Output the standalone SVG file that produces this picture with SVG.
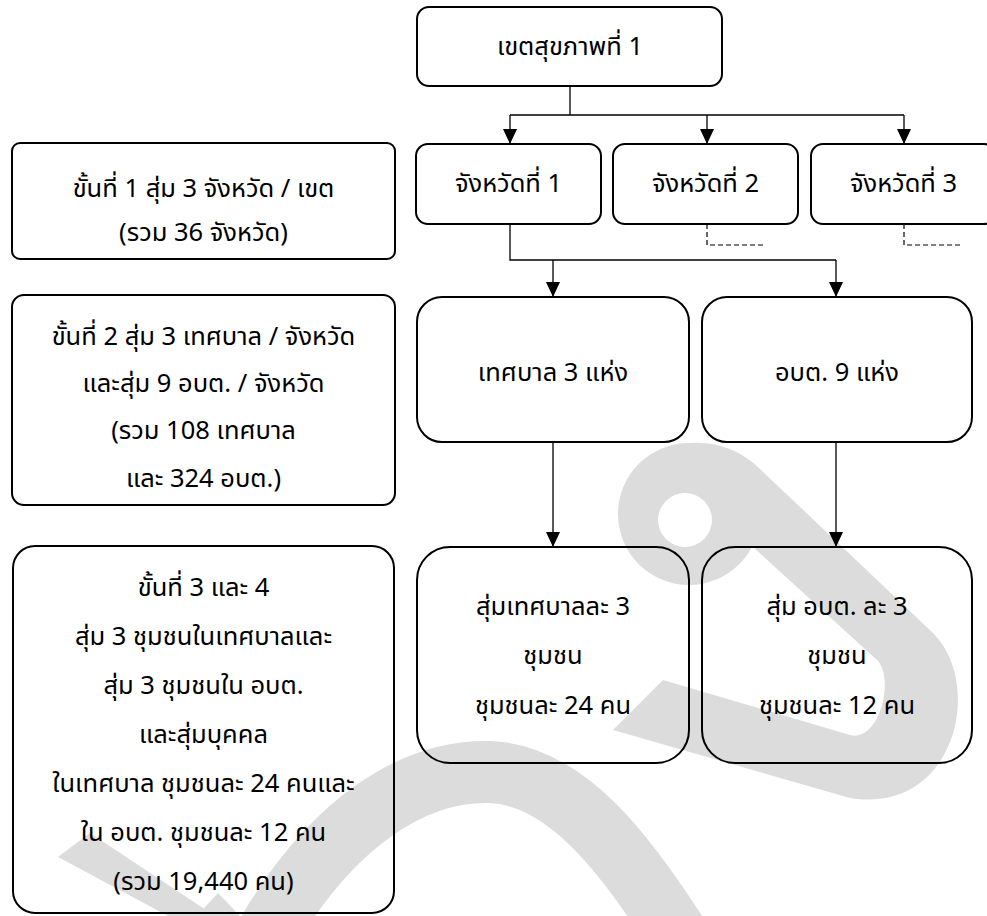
<svg xmlns="http://www.w3.org/2000/svg" width="987" height="916" viewBox="0 0 987 916">
<style>
  .box { fill: none; stroke: #000; stroke-width: 2; }
  .t { font-family: "Noto Sans Thai", "Noto Sans Thai UI", "Leelawadee UI", Tahoma, "Noto Sans", sans-serif; font-size: 25.5px; fill: #000; text-anchor: middle; }
  .conn { fill: none; stroke: #000; stroke-width: 1.3; }
  .dash { fill: none; stroke: #000; stroke-width: 1.2; stroke-dasharray: 5 3; }
  .wm { fill: #dcdcdc; }
</style>
<defs>
  <marker id="arr" markerUnits="userSpaceOnUse" viewBox="0 0 15 14" refX="15" refY="7" markerWidth="15" markerHeight="14" orient="auto">
    <path d="M0,0 L15,7 L0,14 Z" fill="#000"/>
  </marker>
</defs>
<rect width="987" height="916" fill="#fff"/>
<g id="watermark">
  <circle class="wm" cx="689" cy="514" r="71"/>
  <path class="wm" d="M690,443 Q730,440 760,469 L933,633 C985,685 955,815 850,798 L613,730 L663,680 L850,735 C880,743 895,677 877,660 L753,547 Z"/>
  <circle cx="685" cy="520" r="27" fill="#fff"/>
  <path d="M255,955 C330,815 420,770 490,772 C565,775 625,850 690,955" fill="none" stroke="#dcdcdc" stroke-width="62"/>
  <polygon class="wm" points="58,857 90,833 215,916 168,916"/>
  <polygon class="wm" points="197,916 218,893 240,916"/>
</g>
<g id="connectors">
  <path class="conn" d="M570,86 V115 M510,115 H904"/>
  <path class="conn" d="M510,115 V144" marker-end="url(#arr)"/>
  <path class="conn" d="M707,115 V144" marker-end="url(#arr)"/>
  <path class="conn" d="M904,115 V144" marker-end="url(#arr)"/>
  <path class="conn" d="M510,224 V260 H836"/>
  <path class="conn" d="M553,260 V297" marker-end="url(#arr)"/>
  <path class="conn" d="M836,260 V297" marker-end="url(#arr)"/>
  <path class="conn" d="M553,442 V547" marker-end="url(#arr)"/>
  <path class="conn" d="M836,442 V547" marker-end="url(#arr)"/>
  <path class="dash" d="M707,224 V245 H765"/>
  <path class="dash" d="M904,224 V245 H963"/>
</g>
<g id="n-region">
  <rect class="box" x="417" y="7" width="305" height="79" rx="12"/>
  <text class="t" x="570" y="55">เขตสุขภาพที่ 1</text>
</g>
<g id="n-prov1">
  <rect class="box" x="416" y="144" width="185" height="80" rx="12"/>
  <text class="t" x="508.5" y="192">จังหวัดที่ 1</text>
</g>
<g id="n-prov2">
  <rect class="box" x="613" y="144" width="185" height="80" rx="12"/>
  <text class="t" x="705.5" y="192">จังหวัดที่ 2</text>
</g>
<g id="n-prov3">
  <rect class="box" x="811" y="144" width="185" height="80" rx="12"/>
  <text class="t" x="903.5" y="192">จังหวัดที่ 3</text>
</g>
<g id="n-step1">
  <rect class="box" x="12" y="143" width="383" height="116" rx="8"/>
  <text class="t" x="203.5" y="197">ขั้นที่ 1 สุ่ม 3 จังหวัด / เขต</text>
  <text class="t" x="203.5" y="241">(รวม 36 จังหวัด)</text>
</g>
<g id="n-step2">
  <rect class="box" x="12" y="295" width="383" height="210" rx="12"/>
  <text class="t" x="203.5" y="345">ขั้นที่ 2 สุ่ม 3 เทศบาล / จังหวัด</text>
  <text class="t" x="203.5" y="392">และสุ่ม 9 อบต. / จังหวัด</text>
  <text class="t" x="203.5" y="439">(รวม 108 เทศบาล</text>
  <text class="t" x="203.5" y="487">และ 324 อบต.)</text>
</g>
<g id="n-step34">
  <rect class="box" x="13" y="546" width="381" height="367" rx="22"/>
  <text class="t" x="203.5" y="596">ขั้นที่ 3 และ 4</text>
  <text class="t" x="203.5" y="645">สุ่ม 3 ชุมชนในเทศบาลและ</text>
  <text class="t" x="203.5" y="694">สุ่ม 3 ชุมชนใน อบต.</text>
  <text class="t" x="203.5" y="743">และสุ่มบุคคล</text>
  <text class="t" x="203.5" y="792">ในเทศบาล ชุมชนละ 24 คนและ</text>
  <text class="t" x="203.5" y="841">ใน อบต. ชุมชนละ 12 คน</text>
  <text class="t" x="203.5" y="890">(รวม 19,440 คน)</text>
</g>
<g id="n-muni">
  <rect class="box" x="417" y="297" width="272" height="145" rx="25"/>
  <text class="t" x="553" y="381">เทศบาล 3 แห่ง</text>
</g>
<g id="n-sao">
  <rect class="box" x="702" y="297" width="270" height="145" rx="25"/>
  <text class="t" x="837" y="381">อบต. 9 แห่ง</text>
</g>
<g id="n-muni-comm">
  <rect class="box" x="417" y="547" width="272" height="216" rx="33"/>
  <text class="t" x="553" y="615">สุ่มเทศบาลละ 3</text>
  <text class="t" x="553" y="664">ชุมชน</text>
  <text class="t" x="553" y="714">ชุมชนละ 24 คน</text>
</g>
<g id="n-sao-comm">
  <rect class="box" x="702" y="547" width="270" height="216" rx="33"/>
  <text class="t" x="837" y="615">สุ่ม อบต. ละ 3</text>
  <text class="t" x="837" y="664">ชุมชน</text>
  <text class="t" x="837" y="714">ชุมชนละ 12 คน</text>
</g>
</svg>
